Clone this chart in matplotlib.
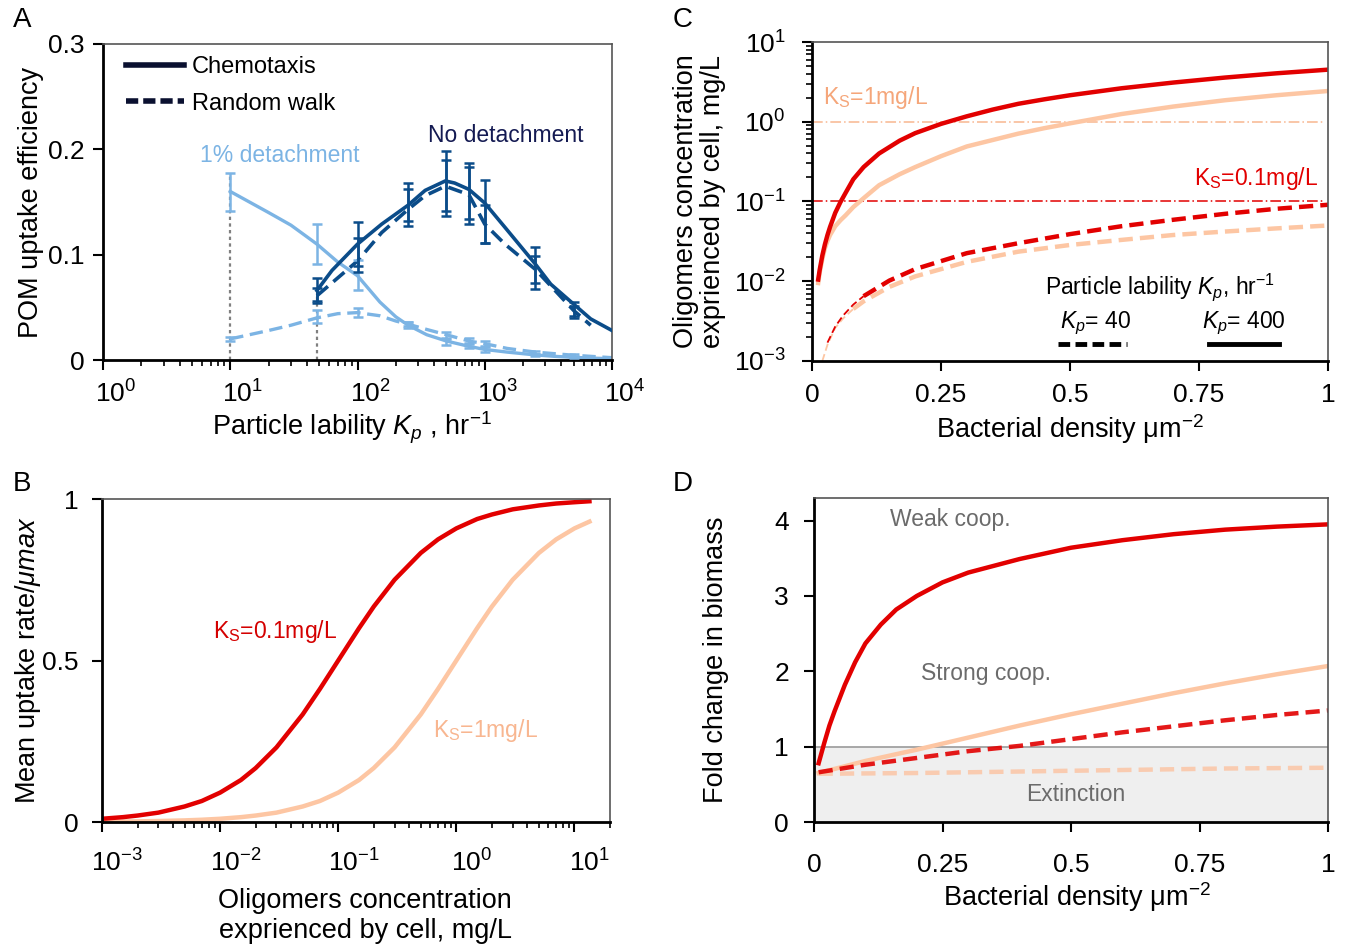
import numpy as np
import matplotlib.pyplot as plt
from matplotlib.ticker import FixedLocator, FixedFormatter, LogLocator, NullFormatter
from matplotlib.transforms import ScaledTranslation

plt.rcParams['font.family'] = ['Liberation Sans', 'DejaVu Sans']
plt.rcParams['mathtext.fontset'] = 'custom'
plt.rcParams['mathtext.rm'] = 'Liberation Sans'
plt.rcParams['mathtext.it'] = 'Liberation Sans:italic'
plt.rcParams['mathtext.bf'] = 'Liberation Sans:bold'
plt.rcParams['mathtext.sf'] = 'Liberation Sans'

RED = '#e20000'
PEACH = '#fdc6a3'
DARK = '#0b4c89'
LIGHT = '#7cb4e4'

# ---------------- panel A : uptake efficiency vs particle lability
a_kp_light = [10, 20, 30, 40, 48, 70, 100, 150, 200, 250, 350, 500, 750, 1000, 1500, 2500, 3500, 5000,
              7000, 10000]
a_light_chemo = [0.160, 0.140, 0.128, 0.117, 0.110, 0.093, 0.080, 0.055, 0.041, 0.033, 0.024, 0.018,
                 0.013, 0.010, 0.0075, 0.0048, 0.0035, 0.0025, 0.0018, 0.0012]
a_kp_light_rw = [10, 20, 30, 48, 70, 100, 150, 200, 250, 350, 500, 750, 1000, 1500, 2500, 5000, 10000]
a_light_rw = [0.020, 0.028, 0.033, 0.040, 0.044, 0.045, 0.042, 0.037, 0.034, 0.029, 0.024, 0.018,
              0.0155, 0.011, 0.0075, 0.0045, 0.0022]
a_kp_dark = [48, 63, 100, 155, 250, 340, 490, 580, 750, 1000, 1440, 2500, 3300, 5000, 6800, 10000]
a_dark_chemo = [0.066, 0.085, 0.110, 0.129, 0.147, 0.161, 0.170, 0.168, 0.162, 0.149, 0.126, 0.091,
                0.072, 0.053, 0.039, 0.028]
a_kp_dark_rw = [48, 100, 155, 250, 340, 490, 750, 1000, 1440, 2500, 5000, 6800]
a_dark_rw = [0.061, 0.094, 0.121, 0.143, 0.156, 0.165, 0.157, 0.129, 0.110, 0.086, 0.047, 0.033]

# error bars (low / high) at simulated lability values
a_err_kp_light = [10, 48, 100, 250, 500, 750, 1000, 2500, 5000]
a_err_light_chemo_lo = [0.141, 0.091, 0.066, 0.030, 0.014, 0.011, 0.008, 0.004, 0.0015]
a_err_light_chemo_hi = [0.178, 0.129, 0.095, 0.036, 0.020, 0.015, 0.012, 0.006, 0.0035]
a_err_light_rw_lo = [0.018, 0.035, 0.041, 0.032, 0.021, 0.016, 0.013, 0.006, 0.003]
a_err_light_rw_hi = [0.022, 0.047, 0.049, 0.036, 0.027, 0.021, 0.018, 0.009, 0.006]
a_err_kp_dark = [48, 100, 250, 500, 750, 1000, 2500, 5000]
a_err_dark_chemo_lo = [0.054, 0.089, 0.127, 0.137, 0.129, 0.111, 0.067, 0.040]
a_err_dark_chemo_hi = [0.078, 0.131, 0.168, 0.198, 0.187, 0.171, 0.107, 0.055]
a_err_dark_rw_lo = [0.056, 0.084, 0.132, 0.141, 0.134, 0.111, 0.073, 0.042]
a_err_dark_rw_hi = [0.068, 0.116, 0.162, 0.190, 0.183, 0.147, 0.099, 0.051]
a_guides_kp = [10, 48]
a_guides_top = [0.178, 0.066]
a_yticks = [0, 0.1, 0.2, 0.3]
a_yticklabels = ['0', '0.1', '0.2', '0.3']

# ---------------- panel B : Monod uptake
b_conc = [0.001, 0.0015, 0.002, 0.003, 0.005, 0.007, 0.01, 0.015, 0.02, 0.03, 0.05, 0.07, 0.1, 0.15,
          0.2, 0.3, 0.5, 0.7, 1, 1.5, 2, 3, 5, 7, 10, 13.4]
b_ks01 = [0.010, 0.015, 0.020, 0.029, 0.048, 0.065, 0.091, 0.130, 0.167, 0.231, 0.333, 0.412, 0.500,
          0.600, 0.667, 0.750, 0.833, 0.875, 0.909, 0.938, 0.952, 0.968, 0.980, 0.986, 0.990, 0.993]
b_ks1 = [0.001, 0.0015, 0.002, 0.003, 0.005, 0.007, 0.010, 0.015, 0.020, 0.029, 0.048, 0.065, 0.091,
         0.130, 0.167, 0.231, 0.333, 0.412, 0.500, 0.600, 0.667, 0.750, 0.833, 0.875, 0.909, 0.930]

# ---------------- panel C : oligomer concentration vs density
c_dens = [0.012, 0.015, 0.02, 0.025, 0.03, 0.035, 0.045, 0.055, 0.065, 0.08, 0.1, 0.13, 0.17, 0.2,
          0.25, 0.3, 0.35, 0.4, 0.45, 0.5, 0.6, 0.7, 0.8, 0.9, 1.0]
c_ks01_kp400 = [0.0105, 0.014, 0.021, 0.029, 0.038, 0.048, 0.072, 0.098, 0.128, 0.19, 0.27, 0.40,
                0.58, 0.72, 0.94, 1.17, 1.42, 1.68, 1.91, 2.15, 2.63, 3.1, 3.58, 4.05, 4.5]
c_ks1_kp400 = [0.0095, 0.013, 0.019, 0.026, 0.032, 0.038, 0.049, 0.058, 0.067, 0.085, 0.11, 0.16,
               0.22, 0.27, 0.37, 0.49, 0.59, 0.71, 0.83, 0.955, 1.25, 1.55, 1.86, 2.15, 2.43]
c_dens_ks01_kp40 = [0.03, 0.045, 0.06, 0.08, 0.1, 0.15, 0.2, 0.3, 0.4, 0.5, 0.6, 0.7, 0.8, 0.9, 1.0]
c_ks01_kp40 = [0.0017, 0.0027, 0.0037, 0.0051, 0.0065, 0.0102, 0.0142, 0.0225, 0.030, 0.039, 0.049,
               0.059, 0.070, 0.081, 0.091]
c_dens_ks1_kp40 = [0.02, 0.03, 0.045, 0.06, 0.08, 0.1, 0.15, 0.2, 0.3, 0.4, 0.5, 0.6, 0.7, 0.8, 0.9, 1.0]
c_ks1_kp40 = [0.001, 0.0016, 0.0026, 0.0034, 0.0045, 0.0056, 0.0085, 0.0115, 0.0175, 0.0235, 0.0285,
              0.033, 0.038, 0.042, 0.046, 0.050]
c_thin_red = 0.09     # dashed curves drawn thin below these densities
c_thin_peach = 0.07
c_ks_values = [1.0, 0.1]
c_ks_end = 0.99
c_xticks = [0, 0.25, 0.5, 0.75, 1]
c_xticklabels = ['0', '0.25', '0.5', '0.75', '1']

# ---------------- panel D : fold change in biomass
d_dens_red = [0.009, 0.02, 0.03, 0.04, 0.06, 0.08, 0.1, 0.13, 0.16, 0.2, 0.25, 0.3, 0.4, 0.5, 0.6,
              0.7, 0.8, 0.9, 1.0]
d_red_kp400 = [0.78, 1.05, 1.28, 1.47, 1.82, 2.12, 2.37, 2.62, 2.82, 3.0, 3.18, 3.31, 3.49, 3.64,
               3.74, 3.82, 3.88, 3.92, 3.95]
d_dens = [0.009, 0.1, 0.2, 0.3, 0.4, 0.5, 0.6, 0.7, 0.8, 0.9, 1.0]
d_peach_kp400 = [0.65, 0.81, 0.96, 1.12, 1.28, 1.43, 1.57, 1.71, 1.84, 1.96, 2.07]
d_red_kp40 = [0.66, 0.76, 0.85, 0.94, 1.01, 1.10, 1.19, 1.27, 1.35, 1.42, 1.48]
d_dens_peach_kp40 = [0.009, 0.2, 0.4, 0.6, 0.8, 1.0]
d_peach_kp40 = [0.64, 0.65, 0.67, 0.69, 0.71, 0.72]
d_extinction = [0, 1]
d_yticks = [0, 1, 2, 3, 4]

W, H = 1346, 946
TICK = 19
LAB = 19.5
ANN = 16.5
fig = plt.figure(figsize=(W / 100, H / 100), dpi=100)


def add_ax(left, top, right, bottom):
    return fig.add_axes([left / W, 1 - bottom / H, (right - left) / W, (bottom - top) / H])


def style(ax, xpad, ypad):
    for s in ['top', 'right']:
        ax.spines[s].set_linewidth(1.2)
        ax.spines[s].set_color('#555555')
    for s in ['left', 'bottom']:
        ax.spines[s].set_linewidth(2)
        ax.spines[s].set_color('black')
    ax.tick_params(which='major', direction='out', length=7, width=1.5, labelsize=TICK,
                   top=False, right=False)
    ax.tick_params(which='minor', direction='out', length=4, width=1.2, top=False, right=False)
    ax.tick_params(axis='x', which='major', pad=xpad)
    ax.tick_params(axis='y', which='major', pad=ypad)


def shift_xlabels(ax, pts):
    for lab in ax.get_xticklabels():
        lab.set_transform(lab.get_transform() + ScaledTranslation(pts / 72, 0, fig.dpi_scale_trans))


def err(ax, x, lo, hi, color):
    lo = np.array(lo)
    hi = np.array(hi)
    mid = (lo + hi) / 2
    ax.errorbar(x, mid, yerr=[mid - lo, hi - mid], fmt='none', ecolor=color, elinewidth=1.8,
                capsize=3.5, capthick=1.8, zorder=4)


# ================= A
axA = add_ax(103, 44, 612, 360)
axA.set_xscale('log')
axA.set_xlim(1, 1e4)
axA.set_ylim(0, 0.3)
axA.vlines(a_guides_kp, 0, a_guides_top, colors='#808080', linestyles=(0, (1.5, 1.5)), lw=1.6, zorder=1)

axA.plot(a_kp_light, a_light_chemo, color=LIGHT, lw=2.4, zorder=2)
axA.plot(a_kp_light_rw, a_light_rw, color=LIGHT, lw=2.4, ls=(0, (4, 2)), zorder=2)
axA.plot(a_kp_dark, a_dark_chemo, color=DARK, lw=2.6, zorder=3)
axA.plot(a_kp_dark_rw, a_dark_rw, color=DARK, lw=2.6, ls=(0, (4, 2)), zorder=3)

err(axA, a_err_kp_light, a_err_light_chemo_lo, a_err_light_chemo_hi, LIGHT)
err(axA, a_err_kp_light, a_err_light_rw_lo, a_err_light_rw_hi, LIGHT)
err(axA, a_err_kp_dark, a_err_dark_chemo_lo, a_err_dark_chemo_hi, DARK)
err(axA, a_err_kp_dark, a_err_dark_rw_lo, a_err_dark_rw_hi, DARK)

axA.text(24.6, 0.194, '1% detachment', color=LIGHT, fontsize=ANN, ha='center', va='center')
axA.text(1470, 0.213, 'No detachment', color='#141a52', fontsize=ANN, ha='center', va='center')

h1, = axA.plot([], [], color='#0a1030', lw=4)
h2, = axA.plot([], [], color='#0a1030', lw=4, ls=(0, (2.2, 0.9)))
axA.legend([h1, h2], ['Chemotaxis', 'Random walk'], loc='upper left', bbox_to_anchor=(0.045, 0.962),
           frameon=False, fontsize=17, handlelength=2.45, handletextpad=0.35, labelspacing=0.62,
           borderpad=0, borderaxespad=0)

axA.xaxis.set_major_locator(LogLocator(base=10, numticks=10))
axA.xaxis.set_minor_locator(LogLocator(base=10, subs=np.arange(2, 10), numticks=20))
axA.xaxis.set_minor_formatter(NullFormatter())
axA.yaxis.set_major_locator(FixedLocator(a_yticks))
axA.yaxis.set_major_formatter(FixedFormatter(a_yticklabels))
style(axA, 8, 6.5)
axA.set_xlabel(r'Particle lability $K_p$ , hr$^{-1}$', fontsize=LAB, va='center')
axA.xaxis.set_label_coords(0.49, -0.215)
axA.set_ylabel('POM uptake efficiency', fontsize=LAB, va='center')
axA.yaxis.set_label_coords(-0.142, 0.5)

# ================= B
axB = add_ax(102, 499, 610, 822)
axB.set_xscale('log')
axB.set_xlim(1e-3, 20)
axB.set_ylim(0, 1)
axB.plot(b_conc, b_ks1, color=PEACH, lw=3.2)
axB.plot(b_conc, b_ks01, color=RED, lw=3.2)
axB.text(0.029, 0.59, r'K$_\mathrm{S}$=0.1mg/L', color='#d40000', fontsize=ANN, ha='center', va='center')
axB.text(1.77, 0.283, r'K$_\mathrm{S}$=1mg/L', color='#f8b690', fontsize=ANN, ha='center', va='center')
axB.xaxis.set_major_locator(LogLocator(base=10, numticks=10))
axB.xaxis.set_minor_locator(LogLocator(base=10, subs=np.arange(2, 10), numticks=20))
axB.xaxis.set_minor_formatter(NullFormatter())
axB.yaxis.set_major_locator(FixedLocator([0, 0.5, 1]))
axB.yaxis.set_major_formatter(FixedFormatter(['0', '0.5', '1']))
style(axB, 13, 10)
axB.set_xlabel('Oligomers concentration\nexprienced by cell, mg/L', fontsize=LAB, va='center',
               linespacing=1.2)
axB.xaxis.set_label_coords(0.518, -0.29)
axB.set_ylabel(r'Mean uptake rate/$\mu\mathit{max}$', fontsize=LAB, va='center')
axB.yaxis.set_label_coords(-0.145, 0.5)

# ================= C
axC = add_ax(812, 42, 1328, 361)
axC.set_yscale('log')
axC.set_xlim(0, 1)
axC.set_ylim(1e-3, 10)
axC.hlines(c_ks_values, 0, c_ks_end, colors=['#f8b690', RED], linestyles=(0, (7, 2, 1, 2)), lw=1.1)

axC.plot(c_dens, c_ks1_kp400, color=PEACH, lw=3.2)
axC.plot(c_dens, c_ks01_kp400, color=RED, lw=3.2)

for xs, ys, col, cut in [(c_dens_ks1_kp40, c_ks1_kp40, PEACH, c_thin_peach),
                         (c_dens_ks01_kp40, c_ks01_kp40, RED, c_thin_red)]:
    xs = np.array(xs)
    ys = np.array(ys)
    k = np.searchsorted(xs, cut)
    axC.plot(xs[:k + 1], ys[:k + 1], color=col, lw=1.3, ls=(0, (4, 2)))
    axC.plot(xs[k:], ys[k:], color=col, lw=3.2, ls=(0, (3.2, 1.6)))

axC.text(0.021, 2.0, r'K$_\mathrm{S}$=1mg/L', color='#f5a67a', fontsize=ANN, ha='left', va='center')
axC.text(0.98, 0.197, r'K$_\mathrm{S}$=0.1mg/L', color=RED, fontsize=ANN, ha='right', va='center')

# lability key
axC.text(0.4516, 0.232, r'Particle lability $K_p$, hr$^{-1}$', transform=axC.transAxes,
         fontsize=ANN, ha='left', va='center')
axC.text(0.48, 0.119, r'$K_p$= 40', transform=axC.transAxes, fontsize=ANN, ha='left', va='center')
axC.text(0.756, 0.119, r'$K_p$= 400', transform=axC.transAxes, fontsize=ANN, ha='left', va='center')
axC.plot([0.477, 0.61], [0.053, 0.053], transform=axC.transAxes, color='black', lw=3.5,
         ls=(0, (2.4, 1.1)))
axC.plot([0.769, 0.905], [0.053, 0.053], transform=axC.transAxes, color='black', lw=3.5)

axC.xaxis.set_major_locator(FixedLocator(c_xticks))
axC.xaxis.set_major_formatter(FixedFormatter(c_xticklabels))
axC.yaxis.set_major_locator(LogLocator(base=10, numticks=10))
axC.yaxis.set_minor_locator(LogLocator(base=10, subs=np.arange(2, 10), numticks=20))
axC.yaxis.set_minor_formatter(NullFormatter())
style(axC, 8.5, 12)
axC.set_xlabel(r'Bacterial density μm$^{-2}$', fontsize=LAB, va='center')
axC.xaxis.set_label_coords(0.5, -0.215)
axC.set_ylabel('Oligomers concentration\nexprienced by cell, mg/L', fontsize=LAB, va='center',
               linespacing=1.05)
axC.yaxis.set_label_coords(-0.218, 0.5)

# ================= D
axD = add_ax(814, 498, 1328, 822)
axD.set_xlim(0, 1)
axD.set_ylim(0, 4.3)
axD.axhspan(d_extinction[0], d_extinction[1], color='#efefef', zorder=0)
axD.axhline(d_extinction[1], color='#9a9a9a', lw=1.2, zorder=0.5)
axD.plot(d_dens_peach_kp40, d_peach_kp40, color='#f9cbb0', lw=3.2, ls=(0, (3.2, 1.6)))
axD.plot(d_dens, d_peach_kp400, color=PEACH, lw=3.2)
axD.plot(d_dens, d_red_kp40, color=RED, lw=3.2, ls=(0, (3.2, 1.6)), alpha=0.9)
axD.plot(d_dens_red, d_red_kp400, color=RED, lw=3.2)
axD.text(0.265, 4.01, 'Weak coop.', color='#6b6b6b', fontsize=ANN, ha='center', va='center')
axD.text(0.335, 1.97, 'Strong coop.', color='#6b6b6b', fontsize=ANN, ha='center', va='center')
axD.text(0.51, 0.36, 'Extinction', color='#6b6b6b', fontsize=ANN, ha='center', va='center')
axD.xaxis.set_major_locator(FixedLocator(c_xticks))
axD.xaxis.set_major_formatter(FixedFormatter(c_xticklabels))
axD.yaxis.set_major_locator(FixedLocator(d_yticks))
style(axD, 15, 11)
axD.set_xlabel(r'Bacterial density μm$^{-2}$', fontsize=LAB, va='center')
axD.xaxis.set_label_coords(0.512, -0.233)
axD.set_ylabel('Fold change in biomass', fontsize=LAB, va='center')
axD.yaxis.set_label_coords(-0.19, 0.5)

shift_xlabels(axA, 9)
shift_xlabels(axB, 11)

for lbl, x, y in [('A', 22, 20), ('B', 22, 484), ('C', 683, 20), ('D', 683, 484)]:
    fig.text(x / W, 1 - y / H, lbl, fontsize=20, ha='center', va='center')

fig.savefig('out.png', dpi=100)
